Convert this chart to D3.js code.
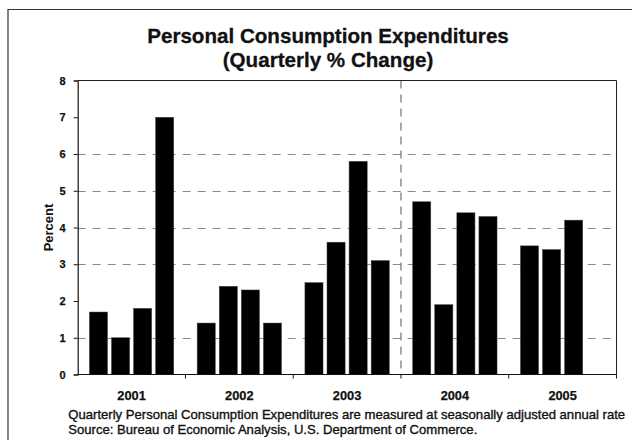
<!DOCTYPE html>
<html>
<head>
<meta charset="utf-8">
<script src="https://cdn.jsdelivr.net/npm/d3@7"></script>
<style>
  html, body { margin: 0; padding: 0; background: #fff; }
  svg { display: block; font-family: "Liberation Sans", Arial, sans-serif; }
</style>
</head>
<body>
<svg id="chart" width="632" height="440"></svg>
<script>
// Quarterly % change in personal consumption expenditures, by year
const years = ["2001", "2002", "2003", "2004", "2005"];
const quarters = ["Q1", "Q2", "Q3", "Q4"];
const q1Values = [1.7, 1.4, 2.5, 4.7, 3.5];
const q2Values = [1.0, 2.4, 3.6, 1.9, 3.4];
const q3Values = [1.8, 2.3, 5.8, 4.4, 4.2];
const q4Values = [7.0, 1.4, 3.1, 4.3, null];
const yTickValues = [0, 1, 2, 3, 4, 5, 6, 7, 8];
const gridValues = [1, 3, 4, 5, 6];
const dividerYear = "2004";

const titleLines = ["Personal Consumption Expenditures", "(Quarterly % Change)"];
const yAxisTitle = "Percent";
const notes = [
  "Quarterly Personal Consumption Expenditures are measured at seasonally adjusted annual rate",
  "Source: Bureau of Economic Analysis, U.S. Department of Commerce."
];

const seriesByQuarter = [q1Values, q2Values, q3Values, q4Values];
const bars = [];
years.forEach((yr, i) => {
  quarters.forEach((q, j) => {
    const v = seriesByQuarter[j][i];
    if (v != null) bars.push({ year: yr, quarter: q, value: v });
  });
});

const svg = d3.select("#chart");
const plot = { left: 77.7, right: 616.5, top: 80.5, bottom: 374.5 };

// Outer frame (left and top edges)
svg.append("path")
  .attr("d", "M8,440 L8,9.5 L632,9.5")
  .attr("fill", "none").attr("stroke", "#333").attr("stroke-width", 1.2);

// Title
svg.append("g").selectAll("text").data(titleLines).join("text")
  .attr("x", 328).attr("y", (d, i) => 42.7 + i * 24.5)
  .attr("text-anchor", "middle")
  .attr("font-size", 20.6).attr("font-weight", "bold").attr("fill", "#111")
  .attr("stroke", "#111").attr("stroke-width", 0.3)
  .text(d => d);

const x = d3.scaleBand().domain(years).range([plot.left, plot.right]).padding(0);
const xq = d3.scaleBand().domain(quarters).range([0, x.bandwidth()])
  .paddingInner(0.18).paddingOuter(0.53);
const y = d3.scaleLinear().domain([0, 8]).range([plot.bottom, plot.top]);

// Horizontal dashed gridlines
svg.append("g").selectAll("line").data(gridValues).join("line")
  .attr("x1", plot.left).attr("x2", plot.right)
  .attr("y1", d => Math.round(y(d)) + 0.5).attr("y2", d => Math.round(y(d)) + 0.5)
  .attr("stroke", "#8a8a8a").attr("stroke-width", 1)
  .attr("stroke-dasharray", "8,7");

// Vertical dashed divider before 2004
svg.append("line")
  .attr("x1", x(dividerYear)).attr("x2", x(dividerYear))
  .attr("y1", plot.top).attr("y2", plot.bottom)
  .attr("stroke", "#555").attr("stroke-width", 1)
  .attr("stroke-dasharray", "8,6");

// Bars
svg.append("g").selectAll("rect").data(bars).join("rect")
  .attr("x", d => x(d.year) + xq(d.quarter))
  .attr("width", xq.bandwidth())
  .attr("y", d => y(d.value))
  .attr("height", d => y(0) - y(d.value))
  .attr("fill", "#000").attr("stroke", "#444").attr("stroke-width", 0.5);

// Plot frame: top and right edges
svg.append("path")
  .attr("d", `M${plot.left},${plot.top} L${plot.right},${plot.top} L${plot.right},${plot.bottom}`)
  .attr("fill", "none").attr("stroke", "#222").attr("stroke-width", 1);

// Y axis
const yAxis = d3.axisLeft(y).tickValues(yTickValues).tickSize(4).tickPadding(8)
  .tickFormat(d3.format("d"));
const gy = svg.append("g").attr("transform", `translate(${plot.left},0)`).call(yAxis);
gy.select(".domain").attr("stroke", "#111").attr("stroke-width", 1.2);
gy.selectAll(".tick line").attr("stroke", "#111");
gy.selectAll(".tick text")
  .attr("font-family", "Liberation Sans, Arial, sans-serif")
  .attr("font-size", 11).attr("font-weight", "bold").attr("fill", "#111")
  .attr("stroke", "#111").attr("stroke-width", 0.25);

// X axis: ticks at year boundaries, labels centred under each year
const gx = svg.append("g").attr("transform", `translate(0,${plot.bottom})`);
gx.append("line")
  .attr("x1", plot.left).attr("x2", plot.right)
  .attr("stroke", "#111").attr("stroke-width", 1.2);
const boundaries = years.map(yr => x(yr)).concat([x(years[years.length - 1]) + x.bandwidth()]);
gx.selectAll("line.tick").data(boundaries.slice(1)).join("line")
  .attr("class", "tick")
  .attr("x1", d => d).attr("x2", d => d).attr("y1", 0).attr("y2", 4)
  .attr("stroke", "#111");
gx.selectAll("text").data(years).join("text")
  .attr("x", d => x(d) + x.bandwidth() / 2).attr("y", 25.5)
  .attr("text-anchor", "middle")
  .attr("font-size", 12.8).attr("font-weight", "bold").attr("fill", "#111")
  .attr("stroke", "#111").attr("stroke-width", 0.25)
  .text(d => d);

// Y axis title
svg.append("text")
  .attr("transform", `translate(53,${(plot.top + plot.bottom) / 2}) rotate(-90)`)
  .attr("text-anchor", "middle")
  .attr("font-size", 13).attr("font-weight", "bold").attr("fill", "#111")
  .text(yAxisTitle);

// Notes under the chart
svg.append("g").selectAll("text").data(notes).join("text")
  .attr("x", 68.3).attr("y", (d, i) => 419 + i * 15)
  .attr("font-size", 13.1).attr("fill", "#111")
  .attr("stroke", "#111").attr("stroke-width", 0.35)
  .text(d => d);
</script>
</body>
</html>
